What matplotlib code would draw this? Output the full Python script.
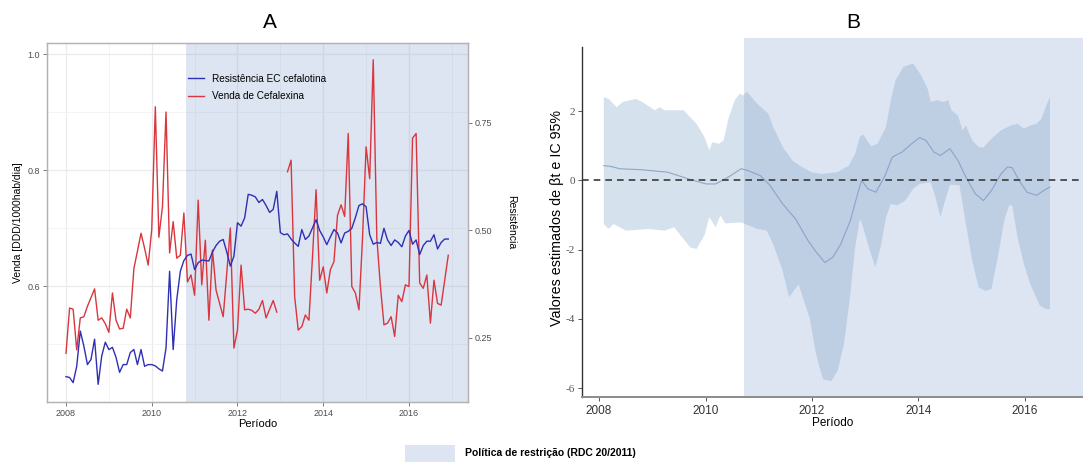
import numpy as np
import matplotlib
matplotlib.use("Agg")
import matplotlib.pyplot as plt
from matplotlib.lines import Line2D
from matplotlib.patches import Rectangle

plt.rcParams['font.family'] = ['Liberation Sans', 'DejaVu Sans']

# ---------------- data: panel A (monthly, Jan 2008 - Dec 2016) ----------------
start_year = 2008
venda_cefalexina = [
    0.484, 0.562, 0.560, 0.490, 0.545, 0.547, 0.565, 0.580, 0.595, 0.541, 0.545, 0.535,
    0.520, 0.588, 0.541, 0.526, 0.527, 0.560, 0.545, 0.630, 0.660, 0.691, 0.665, 0.636,
    0.697, 0.909, 0.684, 0.737, 0.900, 0.657, 0.711, 0.648, 0.653, 0.726, 0.607, 0.619,
    0.584, 0.748, 0.602, 0.679, 0.541, 0.662, 0.593, 0.570, 0.547, 0.622, 0.700, 0.493,
    0.524, 0.636, 0.559, 0.560, 0.558, 0.553, 0.560, 0.575, 0.545, 0.560, 0.575, 0.555,
    np.nan, np.nan, 0.797, 0.817, 0.582, 0.524, 0.530, 0.550, 0.541, 0.651, 0.766, 0.610,
    0.633, 0.588, 0.628, 0.642, 0.722, 0.740, 0.720, 0.863, 0.599, 0.588, 0.559, 0.683,
    0.840, 0.785, 0.990, 0.683, 0.600, 0.533, 0.536, 0.547, 0.513, 0.584, 0.573, 0.602,
    0.599, 0.855, 0.863, 0.605, 0.596, 0.619, 0.536, 0.610, 0.570, 0.567, 0.610, 0.653,
]
resistencia_cefalotina = [
    0.160, 0.158, 0.146, 0.184, 0.266, 0.231, 0.188, 0.200, 0.247, 0.142, 0.208, 0.240,
    0.223, 0.228, 0.205, 0.170, 0.188, 0.188, 0.216, 0.223, 0.188, 0.223, 0.184, 0.188,
    0.188, 0.185, 0.178, 0.173, 0.227, 0.405, 0.223, 0.339, 0.405, 0.430, 0.442, 0.445,
    0.409, 0.425, 0.431, 0.430, 0.429, 0.450, 0.465, 0.475, 0.479, 0.450, 0.417, 0.440,
    0.518, 0.510, 0.529, 0.584, 0.582, 0.578, 0.565, 0.572, 0.558, 0.542, 0.549, 0.591,
    0.495, 0.490, 0.492, 0.480, 0.471, 0.463, 0.502, 0.479, 0.487, 0.506, 0.525, 0.500,
    0.485, 0.467, 0.485, 0.502, 0.494, 0.471, 0.494, 0.498, 0.505, 0.530, 0.558, 0.562,
    0.555, 0.490, 0.468, 0.472, 0.470, 0.505, 0.478, 0.465, 0.478, 0.472, 0.462, 0.487,
    0.500, 0.468, 0.478, 0.444, 0.465, 0.475, 0.475, 0.490, 0.457, 0.472, 0.480, 0.480,
]
policy_start = 2010.80

# ---------------- data: panel B (time-varying beta, 95% CI) ----------------
b_up_t = [2008.09, 2008.18, 2008.33, 2008.45, 2008.69, 2008.81, 2009.05, 2009.14, 2009.23,
          2009.59, 2009.83, 2009.98, 2010.07, 2010.13, 2010.25, 2010.34, 2010.43, 2010.55,
          2010.64, 2010.70, 2010.78, 2010.97, 2011.18, 2011.27, 2011.45, 2011.63, 2011.81,
          2011.99, 2012.18, 2012.48, 2012.69, 2012.81, 2012.90, 2012.96, 2013.11, 2013.23,
          2013.39, 2013.48, 2013.57, 2013.72, 2013.90, 2014.05, 2014.17, 2014.23, 2014.35,
          2014.47, 2014.56, 2014.62, 2014.74, 2014.83, 2014.89, 2015.01, 2015.13, 2015.22,
          2015.37, 2015.55, 2015.73, 2015.86, 2015.98, 2016.10, 2016.22, 2016.31, 2016.40,
          2016.47]
b_up = [2.41, 2.36, 2.12, 2.27, 2.36, 2.27, 2.03, 2.12, 2.03,
        2.03, 1.64, 1.26, 0.87, 1.11, 1.06, 1.16, 1.79, 2.32,
        2.51, 2.46, 2.56, 2.22, 1.93, 1.55, 0.97, 0.58, 0.39,
        0.24, 0.19, 0.24, 0.43, 0.77, 1.26, 1.33, 0.99, 1.06,
        1.55, 2.32, 2.90, 3.29, 3.38, 3.04, 2.66, 2.27, 2.32,
        2.27, 2.32, 2.03, 1.88, 1.45, 1.59, 1.16, 0.97, 0.95,
        1.21, 1.45, 1.59, 1.64, 1.50, 1.59, 1.64, 1.79, 2.17,
        2.41]
b_lo_t = [2008.09, 2008.18, 2008.27, 2008.51, 2008.93, 2009.23, 2009.41, 2009.71, 2009.83,
          2009.98, 2010.07, 2010.19, 2010.28, 2010.37, 2010.67, 2010.97, 2011.15, 2011.27,
          2011.45, 2011.57, 2011.63, 2011.75, 2011.87, 2011.96, 2012.06, 2012.14, 2012.21,
          2012.36, 2012.48, 2012.60, 2012.72, 2012.81, 2012.90, 2012.96, 2013.05, 2013.19,
          2013.30, 2013.39, 2013.48, 2013.60, 2013.75, 2013.90, 2014.02, 2014.23, 2014.32,
          2014.41, 2014.50, 2014.59, 2014.77, 2014.89, 2015.01, 2015.13, 2015.25, 2015.37,
          2015.49, 2015.61, 2015.70, 2015.76, 2015.86, 2015.98, 2016.10, 2016.28, 2016.40,
          2016.47]
b_lo = [-1.26, -1.40, -1.26, -1.45, -1.40, -1.45, -1.35, -1.93, -1.98,
        -1.59, -1.06, -1.35, -1.01, -1.24, -1.21, -1.40, -1.45, -1.84,
        -2.61, -3.38, -3.24, -3.00, -3.58, -4.00, -4.90, -5.40, -5.75,
        -5.80, -5.51, -4.73, -3.29, -1.93, -1.11, -1.35, -1.84, -2.51,
        -1.84, -1.06, -0.68, -0.72, -0.58, -0.24, -0.10, -0.05, -0.48,
        -1.06, -0.58, -0.12, -0.14, -1.26, -2.32, -3.09, -3.19, -3.14,
        -2.22, -1.16, -0.72, -0.72, -1.64, -2.41, -3.00, -3.62, -3.72,
        -3.72]
b_med_t = [2008.09, 2008.21, 2008.39, 2008.81, 2009.29, 2009.71, 2010.01, 2010.19, 2010.43,
           2010.67, 2010.79, 2011.03, 2011.21, 2011.45, 2011.69, 2011.93, 2012.06, 2012.24,
           2012.39, 2012.54, 2012.72, 2012.84, 2012.93, 2013.05, 2013.20, 2013.36, 2013.51,
           2013.69, 2013.87, 2014.02, 2014.14, 2014.29, 2014.41, 2014.59, 2014.74, 2014.89,
           2015.07, 2015.22, 2015.37, 2015.55, 2015.67, 2015.76, 2015.89, 2016.04, 2016.22,
           2016.37, 2016.47]
b_med = [0.43, 0.41, 0.34, 0.31, 0.24, 0.03, -0.10, -0.10, 0.10,
         0.34, 0.29, 0.14, -0.14, -0.68, -1.11, -1.75, -2.03, -2.37,
         -2.22, -1.84, -1.16, -0.48, 0.00, -0.24, -0.34, 0.10, 0.68,
         0.82, 1.06, 1.24, 1.16, 0.82, 0.72, 0.92, 0.58, 0.10,
         -0.39, -0.58, -0.29, 0.19, 0.39, 0.37, 0.00, -0.34, -0.43,
         -0.27, -0.19]
policy_start_b = 2010.72

# ---------------- styling ----------------
shade_c = '#829fcf'
shade_a = 0.27
red_c = '#d9363e'
blue_c = '#2f2fb4'
ribbon_c = '#d5e1ed'
grid_c = '#ebebeb'
tick_c = '#4d4d4d'

fig = plt.figure(figsize=(10.83, 4.62), dpi=100)

# ================= Panel A =================
axA = fig.add_axes([0.0434, 0.1299, 0.3887, 0.777])
axA2 = axA.twinx()
t = start_year + np.arange(len(venda_cefalexina)) / 12.0

axA.set_xlim(2007.557, 2017.376)
axA.set_ylim(0.40, 1.019)
axA2.set_ylim(0.101, 0.936)

axA.set_xticks([2008, 2010, 2012, 2014, 2016])
axA.set_xticks([2009, 2011, 2013, 2015, 2017], minor=True)
axA.set_yticks([0.6, 0.8, 1.0])
axA.set_yticklabels(['0.6', '0.8', '1.0'])
axA.set_yticks([0.5, 0.7, 0.9], minor=True)
axA.grid(True, which='major', color=grid_c, lw=0.9, zorder=0)
axA.grid(True, which='minor', color='#f3f3f3', lw=0.6, zorder=0)
axA.set_axisbelow(True)
axA2.set_yticks([0.25, 0.50, 0.75])
axA2.set_yticklabels(['0.25', '0.50', '0.75'])

for a in (axA, axA2):
    for s in a.spines.values():
        s.set_color('#b3b3b3')
        s.set_linewidth(0.9)
    a.tick_params(which='major', length=3, width=0.7, color='#7a7a7a',
                  labelsize=6.5, labelcolor=tick_c, pad=2)
    a.tick_params(which='minor', length=0)

axA.axvspan(policy_start, 2017.376, color=shade_c, alpha=shade_a, lw=0, zorder=1)
axA.plot(t, venda_cefalexina, color=red_c, lw=1.0, zorder=3)
axA2.plot(t, resistencia_cefalotina, color=blue_c, lw=1.0, zorder=3)

axA.set_xlabel('Período', fontsize=8, labelpad=1)
axA.set_ylabel('Venda [DDD/1000hab/dia]', fontsize=7.5, labelpad=3)
axA2.set_ylabel('Resistência', fontsize=7.5, rotation=270, labelpad=17)

handles = [Line2D([], [], color=blue_c, lw=1.0), Line2D([], [], color=red_c, lw=1.0)]
axA2.legend(handles, ['Resistência EC cefalotina', 'Venda de Cefalexina'],
            loc='upper left', bbox_to_anchor=(0.335, 0.915), frameon=False,
            fontsize=7.2, handlelength=1.6, labelspacing=0.75, borderpad=0,
            borderaxespad=0, handletextpad=0.8)

fig.text(270 / 1083, 1 - 22 / 462, 'A', fontsize=15, ha='center', va='center')

# ================= Panel B =================
axB = fig.add_axes([582 / 1083, 1 - 397 / 462, (1083 - 582) / 1083, (397 - 38) / 462])
axB.set_xlim(2007.68, 2017.09)
axB.set_ylim(-6.26, 4.12)

poly_x = list(b_up_t) + list(b_lo_t)[::-1]
poly_y = list(b_up) + list(b_lo)[::-1]
axB.fill(poly_x, poly_y, color=ribbon_c, lw=0, zorder=1)
axB.plot(b_med_t, b_med, color='#8ea6c6', lw=0.8, zorder=2)
axB.axvspan(policy_start_b, 2017.09, color=shade_c, alpha=shade_a, lw=0, zorder=3)
axB.axhline(0, color='#3a3a3a', lw=1.2, ls=(0, (4, 3)), zorder=4)

axB.spines['top'].set_visible(False)
axB.spines['right'].set_visible(False)
axB.spines['left'].set_color('#333333')
axB.spines['left'].set_linewidth(1.0)
axB.spines['left'].set_bounds(-6.26, 3.86)
axB.spines['bottom'].set_color('#8c8c8c')
axB.spines['bottom'].set_linewidth(1.4)
axB.spines['bottom'].set_zorder(5)

axB.set_xticks([2008, 2010, 2012, 2014, 2016])
axB.set_yticks([-6, -4, -2, 0, 2])
axB.set_yticklabels(['-6', '-4', '-2', '0', '2'], family='Liberation Serif')
axB.tick_params(axis='y', length=3, width=0.7, color='#555555', labelsize=8,
                labelcolor='#555555', pad=2)
axB.tick_params(axis='x', length=3, width=0.7, color='#555555', labelsize=8.5,
                labelcolor='#333333', pad=3)
axB.set_xlabel('Período', fontsize=8.5, labelpad=0)
axB.set_ylabel('Valores estimados de βt e IC 95%', fontsize=10.3, labelpad=1)

fig.text(853 / 1083, 1 - 22 / 462, 'B', fontsize=15, ha='center', va='center')

# ================= bottom legend =================
fig.patches.append(Rectangle((405 / 1083, 0.0), 50 / 1083, 17 / 462,
                             transform=fig.transFigure, facecolor=shade_c,
                             alpha=shade_a, lw=0))
fig.text(465 / 1083, 1 - 453 / 462, 'Política de restrição (RDC 20/2011)',
         fontsize=7.5, fontweight='bold', ha='left', va='center')

fig.savefig('out.png', dpi=100)
